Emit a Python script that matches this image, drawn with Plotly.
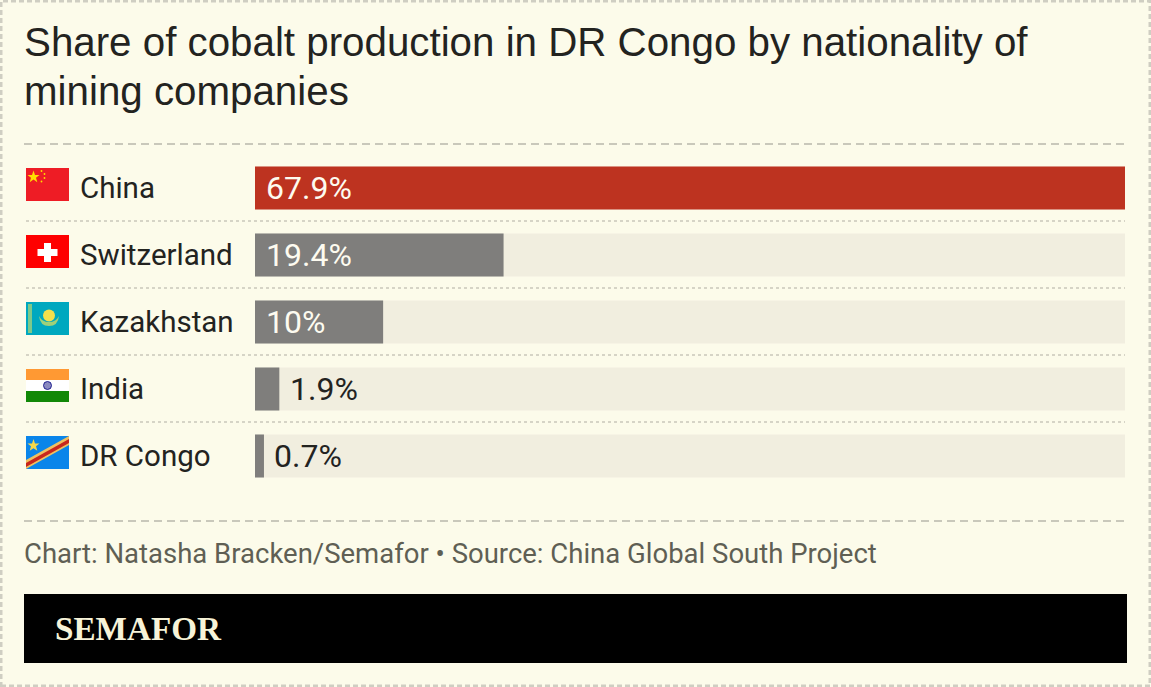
import base64
import plotly.graph_objects as go

# Chart data
countries = ["China", "Switzerland", "Kazakhstan", "India", "DR Congo"]
shares = [67.9, 19.4, 10, 1.9, 0.7]
share_labels = ["67.9%", "19.4%", "10%", "1.9%", "0.7%"]
axis_max = 67.9

title_lines = ["Share of cobalt production in DR Congo by nationality of", "mining companies"]
footer = "Chart: Natasha Bracken/Semafor • Source: China Global South Project"
brand = "SEMAFOR"

W, H = 1151, 687
BG, TRACK, RED, GREY = "#fcfbea", "#f1eedf", "#bd3320", "#7f7e7c"
RULE = "#c9c8bb"
BODY_FONT = "Roboto"
PAD = 2.5  # annotation text sits this far inside its anchor


def fx(px):
    return px / W


def fy(py):
    return 1 - py / H


FLAGS = {
    "China": '<rect width="43" height="33" fill="#ee1c25"/>'
             '<polygon points="7.5,2.5 9,7 13.5,7 10,9.8 11.3,14.3 7.5,11.6 3.7,14.3 5,9.8 1.5,7 6,7" fill="#ffde00"/>'
             '<g fill="#ffde00"><circle cx="15.5" cy="3" r="0.9"/><circle cx="18.5" cy="6" r="0.9"/>'
             '<circle cx="18.5" cy="10" r="0.9"/><circle cx="15.5" cy="13.5" r="0.9"/></g>',
    "Switzerland": '<rect width="43" height="33" fill="#fe0000"/>'
                   '<rect x="18" y="8" width="7" height="19" fill="#fff"/>'
                   '<rect x="11.5" y="14" width="20" height="7" fill="#fff"/>',
    "Kazakhstan": '<rect width="43" height="33" fill="#00a8bf"/>'
                  '<rect x="2" y="2" width="4" height="29" fill="#7fc98a"/>'
                  '<path d="M13 14 Q14 24 23 24 Q32 24 33 14 Q30 20 23 20 Q16 20 13 14Z" fill="#9fd07a"/>'
                  '<circle cx="23" cy="13.5" r="6" fill="#f4e04d"/>',
    "India": '<rect width="43" height="11" fill="#ff9933"/>'
             '<rect y="11" width="43" height="11" fill="#ffffff"/>'
             '<rect y="22" width="43" height="11" fill="#128807"/>'
             '<circle cx="21.5" cy="16.5" r="4" fill="#8a8ac0" stroke="#000080" stroke-width="0.8"/>',
    "DR Congo": '<rect width="43" height="33" fill="#0a85ea"/>'
                '<polygon points="0,24 43,0 43,9 0,33" fill="#f0c060"/>'
                '<polygon points="0,27 43,3 43,7 0,31" fill="#c8261d"/>'
                '<polygon points="7.5,3 9,7.5 13.5,7.5 10,10.3 11.3,14.8 7.5,12.2 3.7,14.8 5,10.3 1.5,7.5 6,7.5" fill="#f7d84a"/>',
}


def flag_uri(body):
    svg = f'<svg xmlns="http://www.w3.org/2000/svg" width="43" height="33" viewBox="0 0 43 33" preserveAspectRatio="none">{body}</svg>'
    return "data:image/svg+xml;base64," + base64.b64encode(svg.encode()).decode()


fig = go.Figure()

# Full-width pale tracks behind each bar
fig.add_trace(go.Bar(y=countries, x=[axis_max] * len(countries), orientation="h",
                     marker=dict(color=TRACK, line_width=0), hoverinfo="skip"))
# The share bars
fig.add_trace(go.Bar(y=countries, x=shares, orientation="h",
                     marker=dict(color=[RED if c == "China" else GREY for c in countries], line_width=0)))

annotations = []
shapes = []
images = []

ROW0, ROW_STEP = 188, 67
for i, (c, v, lab) in enumerate(zip(countries, shares, share_labels)):
    # Country name, left-aligned beside the flag
    annotations.append(dict(text=c, xref="paper", yref="y", x=fx(80 - PAD), y=c, xanchor="left", yanchor="middle",
                            showarrow=False, font=dict(family=BODY_FONT, size=29.5, color="#23231f")))
    # Value label: inside the bar when it fits, otherwise just past its end
    inside = v >= 10
    annotations.append(dict(text=lab, xref="x", yref="y", x=0 if inside else v, y=c, xanchor="left", yanchor="middle",
                            xshift=11 - PAD, showarrow=False,
                            font=dict(family=BODY_FONT, size=32, color="#fdfbf0" if inside else "#23231f")))
    cy = ROW0 + i * ROW_STEP
    images.append(dict(source=flag_uri(FLAGS[c]), xref="paper", yref="paper",
                       x=fx(26), y=fy(cy - 20), sizex=43 / W, sizey=33 / H,
                       xanchor="left", yanchor="top", sizing="stretch", layer="above"))
    # Dotted separators between rows
    if i < len(countries) - 1:
        sep = fy(cy + ROW_STEP / 2 - 0.5)
        shapes.append(dict(type="line", xref="paper", yref="paper", x0=fx(26), x1=fx(1125), y0=sep, y1=sep,
                           line=dict(color=RULE, width=1.5, dash="dot")))

# Title, footer and brand strip
for line, y in zip(title_lines, (42, 91)):
    annotations.append(dict(text=line, xref="paper", yref="paper", x=fx(24 - PAD), y=fy(y), xanchor="left", yanchor="middle",
                            showarrow=False, font=dict(family="Liberation Sans", size=40.3, color="#23231f")))
annotations.append(dict(text=footer, xref="paper", yref="paper", x=fx(24 - PAD), y=fy(553), xanchor="left", yanchor="middle",
                        showarrow=False, font=dict(family=BODY_FONT, size=27.5, color="#5f5f54")))
annotations.append(dict(text=f"<b>{brand}</b>", xref="paper", yref="paper", x=fx(55 - PAD), y=fy(628), xanchor="left", yanchor="middle",
                        showarrow=False, font=dict(family="Liberation Serif", size=33.2, color="#f7f3d8")))

for py in (144, 521):
    shapes.append(dict(type="line", xref="paper", yref="paper", x0=fx(24), x1=fx(1127), y0=fy(py), y1=fy(py),
                       line=dict(color=RULE, width=2, dash="8px 5px")))
shapes.append(dict(type="rect", xref="paper", yref="paper", x0=fx(24), x1=fx(1127), y0=fy(663), y1=fy(594),
                   fillcolor="#000000", line_width=0, layer="below"))
# Dashed frame around the whole graphic
shapes.append(dict(type="rect", xref="paper", yref="paper", x0=fx(1), x1=fx(1150), y0=fy(686), y1=fy(1),
                   line=dict(color="#cfcec2", width=3, dash="5px 3px"), fillcolor="rgba(0,0,0,0)"))

fig.update_layout(
    width=W, height=H, margin=dict(l=0, r=0, t=0, b=0),
    paper_bgcolor=BG, plot_bgcolor=BG, showlegend=False,
    barmode="overlay", bargap=1 - 43 / ROW_STEP,
    xaxis=dict(domain=[fx(255), fx(1125)], range=[0, axis_max], visible=False, fixedrange=True),
    yaxis=dict(domain=[fy(ROW0 + 4.5 * ROW_STEP), fy(ROW0 - 0.5 * ROW_STEP)], categoryorder="array",
               categoryarray=countries, autorange="reversed", visible=False, fixedrange=True),
    annotations=annotations, shapes=shapes, images=images,
)

fig.write_html("out.html", config={"displayModeBar": False})
